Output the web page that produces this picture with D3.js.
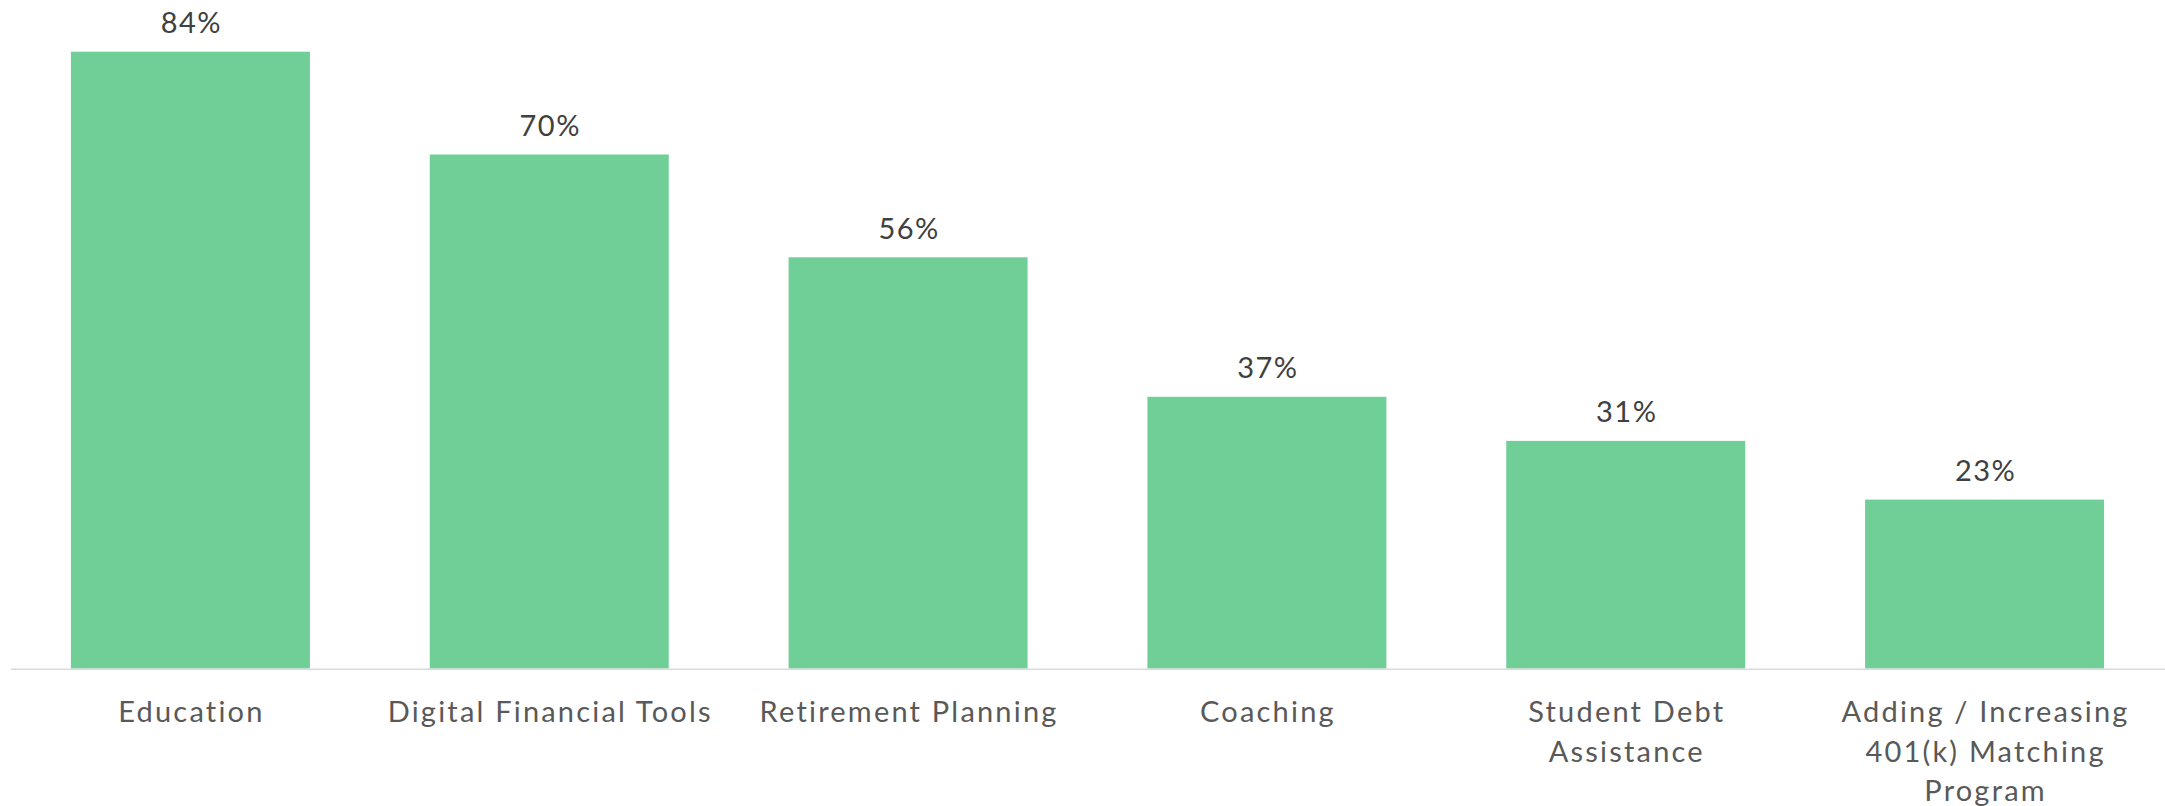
<!DOCTYPE html>
<html>
<head>
<meta charset="utf-8">
<script src="https://cdn.jsdelivr.net/npm/d3@7"></script>
<style>
  html, body { margin: 0; padding: 0; background: #fff; }
  svg { display: block; }
  .val { font-family: Lato, "Noto Sans", sans-serif; font-size: 29px; fill: #404040; letter-spacing: 1.5px; }
  .tick-label { font-family: Lato, "Noto Sans", sans-serif; font-size: 29px; fill: #595959; letter-spacing: 2.2px; }
</style>
</head>
<body>
<svg id="chart"></svg>
<script>
const categories = ["Education", "Digital Financial Tools", "Retirement Planning",
    "Coaching", "Student Debt Assistance", "Adding / Increasing 401(k) Matching Program"];
const values = [84, 70, 56, 37, 31, 23];
// how each tick label breaks into lines
const tickLines = [
    ["Education"],
    ["Digital Financial Tools"],
    ["Retirement Planning"],
    ["Coaching"],
    ["Student Debt", "Assistance"],
    ["Adding / Increasing", "401(k) Matching", "Program"]
];

const width = 2165, height = 806;
const baseY = 668.5;

let svg = d3.select("#chart")
    .attr("width", width)
    .attr("height", height);

const x = d3.scaleBand()
    .domain(categories)
    .range([11, 2164])
    .paddingInner(0.334)
    .paddingOuter(0.167);

// 84 -> top at ~51.7
const y = d3.scaleLinear()
    .domain([0, 84])
    .range([baseY, 51.7]);

svg.append("g")
    .selectAll("rect")
    .data(categories)
    .join("rect")
    .attr("x", d => x(d))
    .attr("y", (d, i) => y(values[i]))
    .attr("width", x.bandwidth())
    .attr("height", (d, i) => baseY - y(values[i]))
    .attr("fill", "#70cf97");

// baseline
svg.append("line")
    .attr("x1", 11)
    .attr("x2", width)
    .attr("y1", baseY + 0.8)
    .attr("y2", baseY + 0.8)
    .attr("stroke", "#d9d9d9")
    .attr("stroke-width", 1.6);

// value labels
svg.append("g")
    .selectAll("text")
    .data(categories)
    .join("text")
    .attr("class", "val")
    .attr("x", d => x(d) + x.bandwidth() / 2 + 1)
    .attr("y", (d, i) => y(values[i]) - 18.5)
    .attr("text-anchor", "middle")
    .text((d, i) => values[i] + "%");

// category labels
let ticks = svg.append("g")
    .selectAll("text")
    .data(categories)
    .join("text")
    .attr("class", "tick-label")
    .attr("text-anchor", "middle")
    .attr("y", 722);

ticks.each(function (d, i) {
    let t = d3.select(this);
    tickLines[i].forEach((line, j) => {
        t.append("tspan")
            .attr("x", x(d) + x.bandwidth() / 2 + 1)
            .attr("dy", j === 0 ? 0 : 39.5)
            .text(line);
    });
});
</script>
</body>
</html>
